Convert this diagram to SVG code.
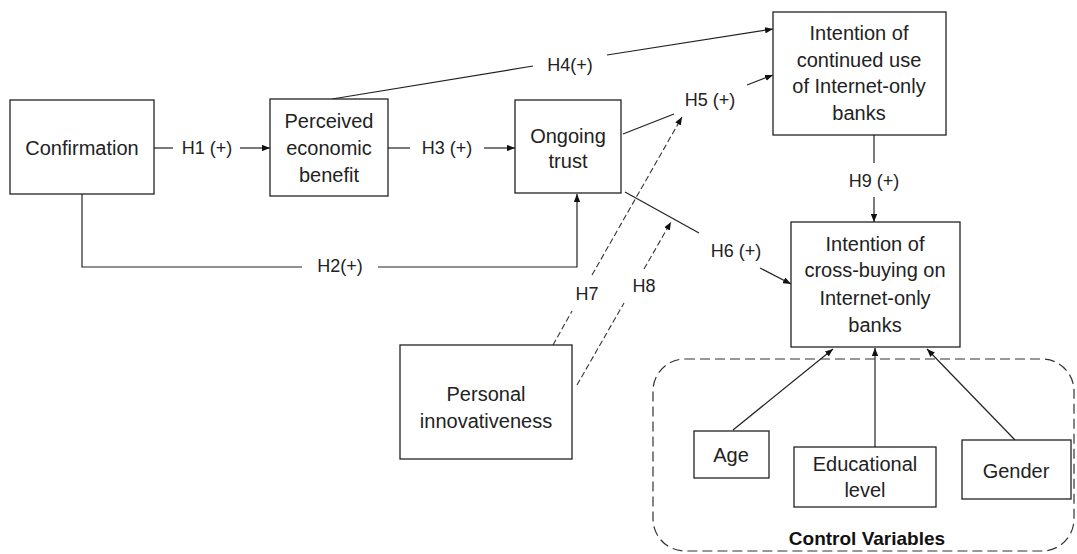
<svg xmlns="http://www.w3.org/2000/svg" width="1077" height="554" viewBox="0 0 1077 554">
<style>
.box{fill:#fff;stroke:#222;stroke-width:1.3}
.t{font-family:"Liberation Sans",Arial,sans-serif;font-size:20px;fill:#222;text-anchor:middle}
.l{font-family:"Liberation Sans",Arial,sans-serif;font-size:18px;fill:#222;text-anchor:middle}
.c{fill:none;stroke:#222;stroke-width:1.2}
.d{fill:none;stroke:#333;stroke-width:1.1;stroke-dasharray:6 3}
.a{marker-end:url(#ah)}
</style>
<defs>
<marker id="ah" viewBox="0 0 10 8" refX="10" refY="4" markerWidth="8" markerHeight="6.4" markerUnits="userSpaceOnUse" orient="auto">
<path d="M0,0 L10,4 L0,8 Z" fill="#111"/>
</marker>
</defs>
<rect width="1077" height="554" fill="#fff"/>
<g id="connectors">
<line class="c" x1="154" y1="148" x2="173" y2="148"/>
<line class="c a" x1="240" y1="148" x2="270" y2="148"/>
<line class="c" x1="388" y1="148" x2="410" y2="148"/>
<line class="c a" x1="484" y1="148" x2="515" y2="148"/>
<polyline class="c" points="82,194 82,267 302,267"/>
<polyline class="c a" points="378,267 577,267 577,194"/>
<line class="c" x1="332" y1="99" x2="533" y2="66"/>
<line class="c a" x1="607" y1="55" x2="773" y2="29"/>
<line class="c" x1="623" y1="134" x2="674" y2="114"/>
<line class="c a" x1="747" y1="85" x2="773" y2="75"/>
<line class="c" x1="625" y1="192" x2="699" y2="233"/>
<line class="c a" x1="760" y1="268" x2="791" y2="284"/>
<line class="d" x1="553" y1="345" x2="572" y2="311"/>
<line class="d a" x1="592" y1="275" x2="682" y2="117"/>
<line class="d" x1="577" y1="385" x2="624" y2="303"/>
<line class="d a" x1="644" y1="269" x2="671" y2="222"/>
<line class="c" x1="874" y1="135" x2="874" y2="163"/>
<line class="c a" x1="874" y1="197" x2="874" y2="222"/>
<line class="c a" x1="733" y1="430" x2="833" y2="349"/>
<line class="c a" x1="875" y1="447" x2="875" y2="348"/>
<line class="c a" x1="1015" y1="440" x2="927" y2="349"/>
<text class="l" x="207" y="154">H1 (+)</text>
<text class="l" x="447" y="154">H3 (+)</text>
<text class="l" x="340" y="272">H2(+)</text>
<text class="l" x="570" y="71">H4(+)</text>
<text class="l" x="710" y="106">H5 (+)</text>
<text class="l" x="736" y="257">H6 (+)</text>
<text class="l" x="587" y="300">H7</text>
<text class="l" x="644" y="292">H8</text>
<text class="l" x="874" y="187">H9 (+)</text>
</g>
<g id="confirmation">
<rect class="box" x="10" y="100" width="144" height="94"/>
<text class="t" x="82" y="155">Confirmation</text>
</g>
<g id="perceived">
<rect class="box" x="270" y="99" width="118" height="97"/>
<text class="t" x="329" y="128">Perceived</text>
<text class="t" x="329" y="155">economic</text>
<text class="t" x="329" y="182">benefit</text>
</g>
<g id="trust">
<rect class="box" x="515" y="100" width="106" height="93"/>
<text class="t" x="568" y="143">Ongoing</text>
<text class="t" x="568" y="168">trust</text>
</g>
<g id="continued">
<rect class="box" x="773" y="12" width="173" height="123"/>
<text class="t" x="859" y="40">Intention of</text>
<text class="t" x="859" y="67">continued use</text>
<text class="t" x="859" y="93">of Internet-only</text>
<text class="t" x="859" y="120">banks</text>
</g>
<g id="crossbuying">
<rect class="box" x="791" y="222" width="169" height="125"/>
<text class="t" x="875" y="251">Intention of</text>
<text class="t" x="875" y="277">cross-buying on</text>
<text class="t" x="875" y="305">Internet-only</text>
<text class="t" x="875" y="332">banks</text>
</g>
<g id="innovativeness">
<rect class="box" x="400" y="345" width="172" height="114"/>
<text class="t" x="486" y="401">Personal</text>
<text class="t" x="486" y="428">innovativeness</text>
</g>
<g id="controls">
<rect x="653" y="359" width="421" height="192" rx="32" fill="none" stroke="#333" stroke-width="1.2" stroke-dasharray="10 5"/>
<text x="867" y="545" font-family="Liberation Sans,Arial,sans-serif" font-size="19" font-weight="bold" fill="#111" text-anchor="middle">Control Variables</text>
</g>
<g id="age">
<rect class="box" x="694" y="431" width="75" height="47"/>
<text class="t" x="731" y="462">Age</text>
</g>
<g id="education">
<rect class="box" x="794" y="447" width="142" height="60"/>
<text class="t" x="865" y="471">Educational</text>
<text class="t" x="865" y="497">level</text>
</g>
<g id="gender">
<rect class="box" x="962" y="440" width="109" height="59"/>
<text class="t" x="1016" y="478">Gender</text>
</g>
</svg>
